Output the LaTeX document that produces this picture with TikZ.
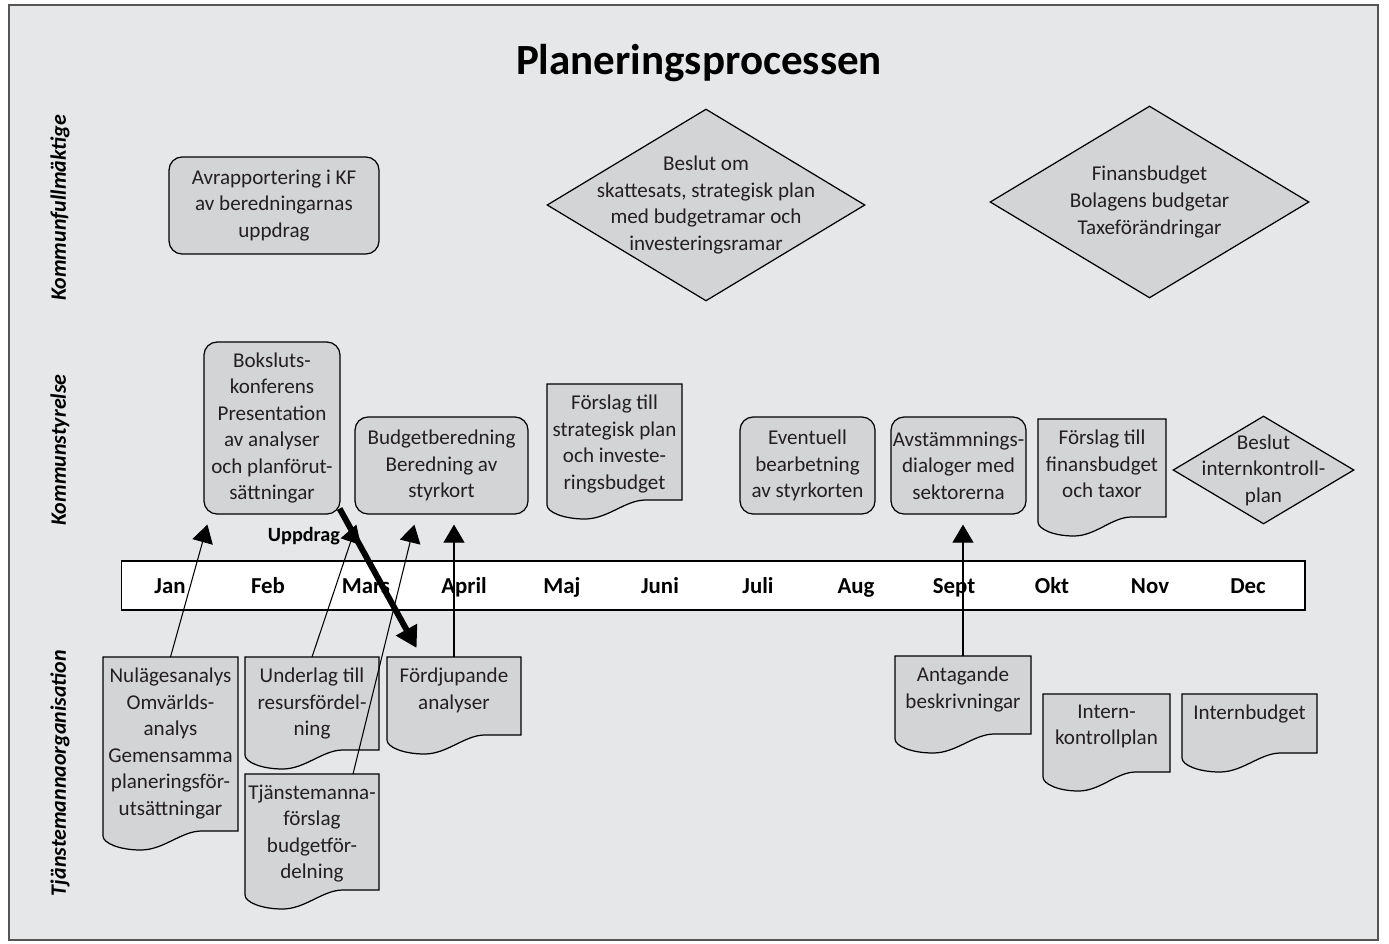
\documentclass[tikz,border=0pt]{standalone}
\usepackage{fontspec}
\setmainfont{Carlito}
\usetikzlibrary{arrows.meta,calc,positioning,shapes.geometric}

\newcommand{\bodyfont}{\fontsize{12}{15.1}\selectfont}

\tikzset{
  roundbox/.style={draw=black, line width=0.7pt, fill=boxgray, rounded corners=0.26cm,
    align=center, text=textgray, font=\bodyfont, inner sep=0pt},
  decision/.style={draw=black, line width=0.7pt, fill=boxgray, diamond, inner sep=0pt},
  boxtext/.style={align=center, text=textgray, font=\bodyfont, inner sep=1pt},
  doctext/.style={align=center, text=textgray, font=\bodyfont, inner xsep=1pt,
    inner ysep=6pt, anchor=north},
  docline/.style={draw=black, line width=0.7pt, fill=boxgray},
  lane/.style={rotate=90, font=\fontsize{12.5}{15}\selectfont\bfseries\itshape},
  month/.style={font=\fontsize{13}{15}\selectfont\bfseries, anchor=base},
  flow/.style={line width=0.6pt, -{Triangle[length=0.36cm,width=0.42cm]}},
  bigflow/.style={line width=3.4pt, -{Triangle[length=0.42cm,width=0.46cm]}},
}

% document shape: name, left, top, right, bottom of right side, text
\newcommand{\docnode}[6]{%
  \draw[docline] (#2,#3) -- (#4,#3) -- (#4,#5)
    -- ({#2+0.73*(#4-#2)},#5)
    .. controls ({#2+0.58*(#4-#2)},#5) and ({#2+0.45*(#4-#2)},#5+19) .. ({#2+0.28*(#4-#2)},#5+19)
    .. controls ({#2+0.12*(#4-#2)},#5+19) and (#2,#5+12) .. (#2,#5+5) -- cycle;
  \node[doctext] (#1) at ({(#2+#4)/2},#3) {#6};
}

\begin{document}
\begin{tikzpicture}[x=0.02cm,y=-0.02cm]
  \useasboundingbox (0,0) rectangle (1389,943);

  % Changing colors
  \definecolor{bggray}{RGB}{230,231,232}%
  \definecolor{boxgray}{RGB}{211,212,214}%
  \definecolor{textgray}{RGB}{35,31,32}%
  \definecolor{framegray}{RGB}{85,85,85}%

  % Drawing frame
  \draw[draw=framegray, line width=0.8pt, fill=bggray] (9,5) rectangle (1378,940);

  % Marking title
  \node[font=\fontsize{24.5}{28}\selectfont\bfseries, anchor=base] (title) at (699,74) {Planeringsprocessen};

  % Marking lanes
  \node[lane] (laneKF) at (60,208) {Kommunfullmäktige};
  \node[lane] (laneKS) at (60,450) {Kommunstyrelse};
  \node[lane] (laneTO) at (60,773) {Tjänstemannaorganisation};

  % Drawing Kommunfullmaktige row
  \node[roundbox, minimum width=4.2cm, minimum height=1.94cm] (avrapp) at (274,205.5)
    {Avrapportering i KF\\av beredningarnas\\uppdrag};
  \node[decision, minimum width=6.36cm, minimum height=3.84cm] (beslut) at (706,205) {};
  \node[boxtext] (beslutT) at (beslut) {Beslut om\\skattesats, strategisk plan\\med budgetramar och\\investeringsramar};
  \node[decision, minimum width=6.38cm, minimum height=3.84cm] (finans) at (1149.5,202) {};
  \node[boxtext] (finansT) at (finans) {Finansbudget\\Bolagens budgetar\\Taxeförändringar};

  % Drawing Kommunstyrelse row
  \node[roundbox, minimum width=2.72cm, minimum height=3.44cm] (boks) at (272,428)
    {Boksluts-\\konferens\\Presentation\\av analyser\\och planförut-\\sättningar};
  \node[roundbox, minimum width=3.46cm, minimum height=1.94cm] (budg) at (441.5,465.5)
    {Budgetberedning\\Beredning av\\styrkort};
  \docnode{strat}{547}{384}{682}{500}{Förslag till\\strategisk plan\\och investe-\\ringsbudget}
  \node[roundbox, minimum width=2.7cm, minimum height=1.94cm] (event) at (807.5,465.5)
    {Eventuell\\bearbetning\\av styrkorten};
  \node[roundbox, minimum width=2.7cm, minimum height=1.94cm] (avst) at (958.5,465.5)
    {Avstämmnings-\\dialoger med\\sektorerna};
  \docnode{fbud}{1038}{419}{1166}{517}{Förslag till\\finansbudget\\och taxor}
  \node[decision, minimum width=3.62cm, minimum height=2.16cm] (ikbeslut) at (1263.5,470) {};
  \node[boxtext] (ikbeslutT) at (ikbeslut) {Beslut\\internkontroll-\\plan};

  % Drawing time line
  \node[draw=black, line width=0.7pt, fill=white, minimum width=23.68cm, minimum height=0.98cm,
    inner sep=0pt] (timeline) at (713,585.5) {};
  \foreach \mname [count=\i] in {Jan,Feb,Mars,April,Maj,Juni,Juli,Aug,Sept,Okt,Nov,Dec}
    \node[month] (month\i) at ({170+98*(\i-1)},593) {\mname};

  % Drawing Tjanstemannaorganisation row
  \docnode{nul}{103}{657}{238}{831}{Nulägesanalys\\Omvärlds-\\analys\\Gemensamma\\planeringsför-\\utsättningar}
  \docnode{und}{245}{657}{379}{750}{Underlag till\\resursfördel-\\ning}
  \docnode{tjf}{245}{774}{379}{890}{Tjänstemanna-\\förslag\\budgetför-\\delning}
  \docnode{ford}{387}{657}{521}{735}{Fördjupande\\analyser}
  \docnode{ant}{895}{656}{1031}{734}{Antagande\\beskrivningar}
  \docnode{ikplan}{1043}{694}{1170}{772}{Intern-\\kontrollplan}
  \docnode{ibud}{1182}{694}{1317}{753}{Internbudget}

  % Marking uppdrag
  \node[font=\fontsize{11.5}{14}\selectfont\bfseries] (uppdrag) at (304,536) {Uppdrag};

  % Drawing arrows
  \draw[flow] (nul.north) -- ($(boks.south west)+(4,10)$);
  \draw[flow] (und.north) -- ($(budg.south west)+(2,10)$);
  \draw[flow] ($(tjf.north)+(41,0)$) -- ($(budg.south west)+(60,10)$);
  \draw[flow] (ford.north) -- ($(ford.north |- budg.south)+(0,10)$);
  \draw[flow] (ant.north) -- ($(ant.north |- avst.south)+(0,10)$);
  \draw[bigflow] ($(boks.south east)+(-1,-6)$) -- ($(ford.north west)+(19,-9)$);
\end{tikzpicture}
\end{document}
